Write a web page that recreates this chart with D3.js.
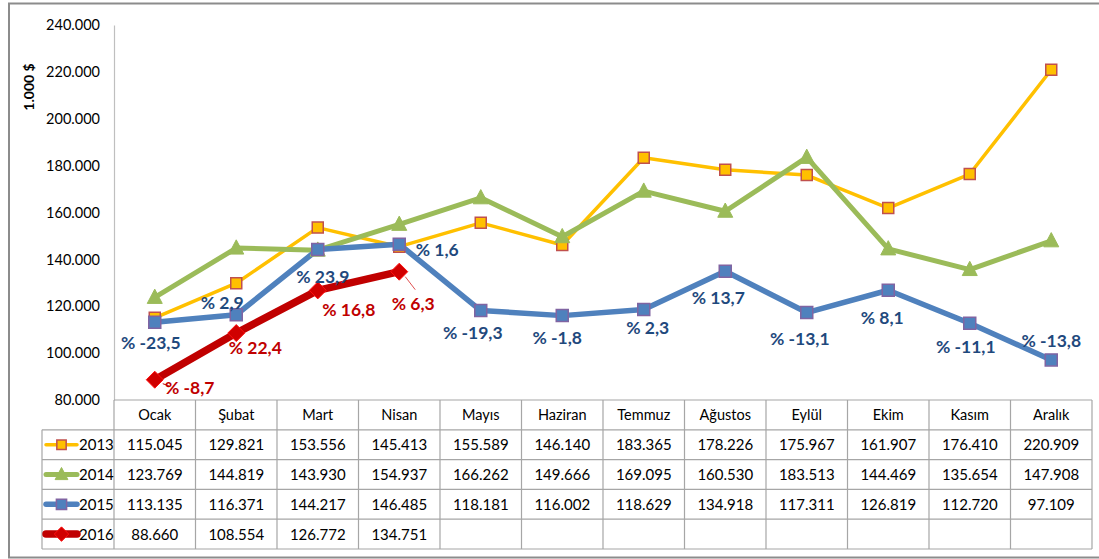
<!DOCTYPE html>
<html><head><meta charset="utf-8">
<script src="https://cdn.jsdelivr.net/npm/d3@7"></script>
<style>body{margin:0;background:#fff;} svg{display:block;}</style>
</head><body>
<svg id="c" width="1099" height="559"></svg>
<script>
const months = ["Ocak","Şubat","Mart","Nisan","Mayıs","Haziran","Temmuz","Ağustos","Eylül","Ekim","Kasım","Aralık"];
const v2013 = [115045,129821,153556,145413,155589,146140,183365,178226,175967,161907,176410,220909];
const v2014 = [123769,144819,143930,154937,166262,149666,169095,160530,183513,144469,135654,147908];
const v2015 = [113135,116371,144217,146485,118181,116002,118629,134918,117311,126819,112720,97109];
const v2016 = [88660,108554,126772,134751];
const pct2015 = ["% -23,5","% 2,9","% 23,9","% 1,6","% -19,3","% -1,8","% 2,3","% 13,7","% -13,1","% 8,1","% -11,1","% -13,8"];
const pct2016 = ["% -8,7","% 22,4","% 16,8","% 6,3"];
const yTicks = [80000,100000,120000,140000,160000,180000,200000,220000,240000];
const yTickLabels = ["80.000","100.000","120.000","140.000","160.000","180.000","200.000","220.000","240.000"];
const seriesNames = ["2013","2014","2015","2016"];

const svg = d3.select("#c");
const font = "Lato, 'Open Sans', sans-serif";
const L = 114, R = 1092, T = 25, B = 400;
const x = d3.scaleBand().domain(months).range([L, R]);
const y = d3.scaleLinear().domain([80000, 240000]).range([B, T]);
const fmt = v => d3.format(",")(v).replace(/,/g, ".");

// outer frame
svg.append("rect").attr("x",9).attr("y",3.5).attr("width",1200).attr("height",554)
  .attr("fill","none").attr("stroke","#8c8c8c").attr("stroke-width",2);

// y axis
const yAxis = d3.axisLeft(y).tickValues(yTicks).tickSize(0).tickPadding(14)
  .tickFormat((d,i) => yTickLabels[i]);
const yg = svg.append("g").attr("transform",`translate(${L},0)`).call(yAxis);
yg.select(".domain").attr("stroke","#bfbfbf").attr("stroke-width",1.2);
yg.selectAll("text").attr("font-family",font).attr("font-size",14.5).attr("fill","#000");

svg.append("text").attr("transform","translate(34,87) rotate(-90)")
  .attr("text-anchor","middle").attr("font-family",font).attr("font-weight","bold")
  .attr("font-size",14).text("1.000 $");

// table
const rowH = 29.8;
const tableTop = B;
const tg = svg.append("g");
const gridColor = "#a6a6a6";
for (let r = 0; r <= 5; r++) {
  const yy = tableTop + r*rowH;
  tg.append("line").attr("x1", r === 0 ? L : 42).attr("x2", R).attr("y1", yy).attr("y2", yy)
    .attr("stroke", gridColor).attr("stroke-width", 1.2);
}
months.forEach((m,i) => {
  const xx = x(m) + x.bandwidth();
  tg.append("line").attr("x1",xx).attr("x2",xx).attr("y1",tableTop).attr("y2",tableTop+5*rowH)
    .attr("stroke",gridColor).attr("stroke-width",1.2);
});
tg.append("line").attr("x1",L).attr("x2",L).attr("y1",tableTop).attr("y2",tableTop+5*rowH).attr("stroke",gridColor).attr("stroke-width",1.2);
tg.append("line").attr("x1",42).attr("x2",42).attr("y1",tableTop+rowH).attr("y2",tableTop+5*rowH).attr("stroke",gridColor).attr("stroke-width",1.2);

months.forEach(m => {
  tg.append("text").attr("x", x(m)+x.bandwidth()/2).attr("y", tableTop+rowH/2+5)
    .attr("text-anchor","middle").attr("font-family",font).attr("font-size",14.5).text(m);
});
const allSeries = [v2013, v2014, v2015, v2016];
allSeries.forEach((vals, r) => {
  vals.forEach((v, i) => {
    tg.append("text").attr("x", x(months[i])+x.bandwidth()/2).attr("y", tableTop+(r+1)*rowH+rowH/2+5.5)
      .attr("text-anchor","middle").attr("font-family",font).attr("font-size",15).text(fmt(v));
  });
});

// series styles
const styles = [
  {line:"#FFC000", w:3.5, marker:"square", size:11, fill:"#FFC000", stroke:"#C0504D", sw:1.5},
  {line:"#9BBB59", w:5, marker:"triangle", size:15, fill:"#9BBB59", stroke:"#9BBB59", sw:1},
  {line:"#4F81BD", w:5.5, marker:"square", size:12, fill:"#4F81BD", stroke:"#8064A2", sw:1.5},
  {line:"#C00000", w:7.5, marker:"diamond", size:17, fill:"#D00000", stroke:"#FF1010", sw:1}
];
function markerPath(type, s) {
  const h = s/2;
  if (type === "square") return `M${-h},${-h}H${h}V${h}H${-h}Z`;
  if (type === "triangle") return `M0,${-h*1.1}L${h},${h*0.8}L${-h},${h*0.8}Z`;
  if (type === "diamond") return `M0,${-h}L${h},0L0,${h}L${-h},0Z`;
}
const cx = i => x(months[i]) + x.bandwidth()/2;
const lineGen = d3.line().x((d,i) => cx(i)).y(d => y(d));
const plot = svg.append("g");
allSeries.forEach((vals, k) => {
  plot.append("path").attr("d", lineGen(vals)).attr("fill","none")
    .attr("stroke", styles[k].line).attr("stroke-width", styles[k].w).attr("stroke-linejoin","round");
});
plot.append("line").attr("x1",cx(0)+8).attr("y1",y(v2016[0])+4).attr("x2",cx(0)+14).attr("y2",y(v2016[0])+6).attr("stroke","#C00000").attr("stroke-width",1);
plot.append("line").attr("x1",cx(3)+6).attr("y1",y(v2016[3])+5).attr("x2",cx(3)+16).attr("y2",y(v2016[3])+18).attr("stroke","#E05050").attr("stroke-width",1);

allSeries.forEach((vals, k) => {
  const st = styles[k];
  vals.forEach((v, i) => {
    plot.append("path").attr("d", markerPath(st.marker, st.size))
      .attr("transform", `translate(${cx(i)},${y(v)})`)
      .attr("fill", st.fill).attr("stroke", st.stroke).attr("stroke-width", st.sw);
  });
});

const off2015 = [[-4,21],[-14,-12],[5,28],[38,6],[-8,22],[-5,22],[4,19],[-7,27],[-7,26],[-6,28],[-4,24],[0,-19]];
pct2015.forEach((t,i) => {
  plot.append("text").attr("x", cx(i)+off2015[i][0]).attr("y", y(v2015[i])+off2015[i][1]+6)
    .attr("text-anchor","middle").attr("font-family",font).attr("font-weight","bold")
    .attr("font-size",17.5).attr("fill","#1F497D").text(t);
});
const off2016 = [[35,8],[19,15],[31,20],[14,32]];
pct2016.forEach((t,i) => {
  plot.append("text").attr("x", cx(i)+off2016[i][0]).attr("y", y(v2016[i])+off2016[i][1]+6)
    .attr("text-anchor","middle").attr("font-family",font).attr("font-weight","bold")
    .attr("font-size",17.5).attr("fill","#C00000").text(t);
});

seriesNames.forEach((n, k) => {
  const st = styles[k];
  const yy = tableTop + (k+1)*rowH + rowH/2;
  const g = svg.append("g");
  g.append("line").attr("x1",46).attr("x2",77).attr("y1",yy).attr("y2",yy)
    .attr("stroke",st.line).attr("stroke-width",st.w).attr("stroke-linecap","round");
  g.append("path").attr("d", markerPath(st.marker, st.size*0.85)).attr("transform",`translate(61.5,${yy})`)
    .attr("fill",st.fill).attr("stroke",st.stroke).attr("stroke-width",st.sw);
  g.append("text").attr("x",79).attr("y",yy+5.5).attr("font-family",font).attr("font-size",15).text(n);
});
</script>
</body></html>
